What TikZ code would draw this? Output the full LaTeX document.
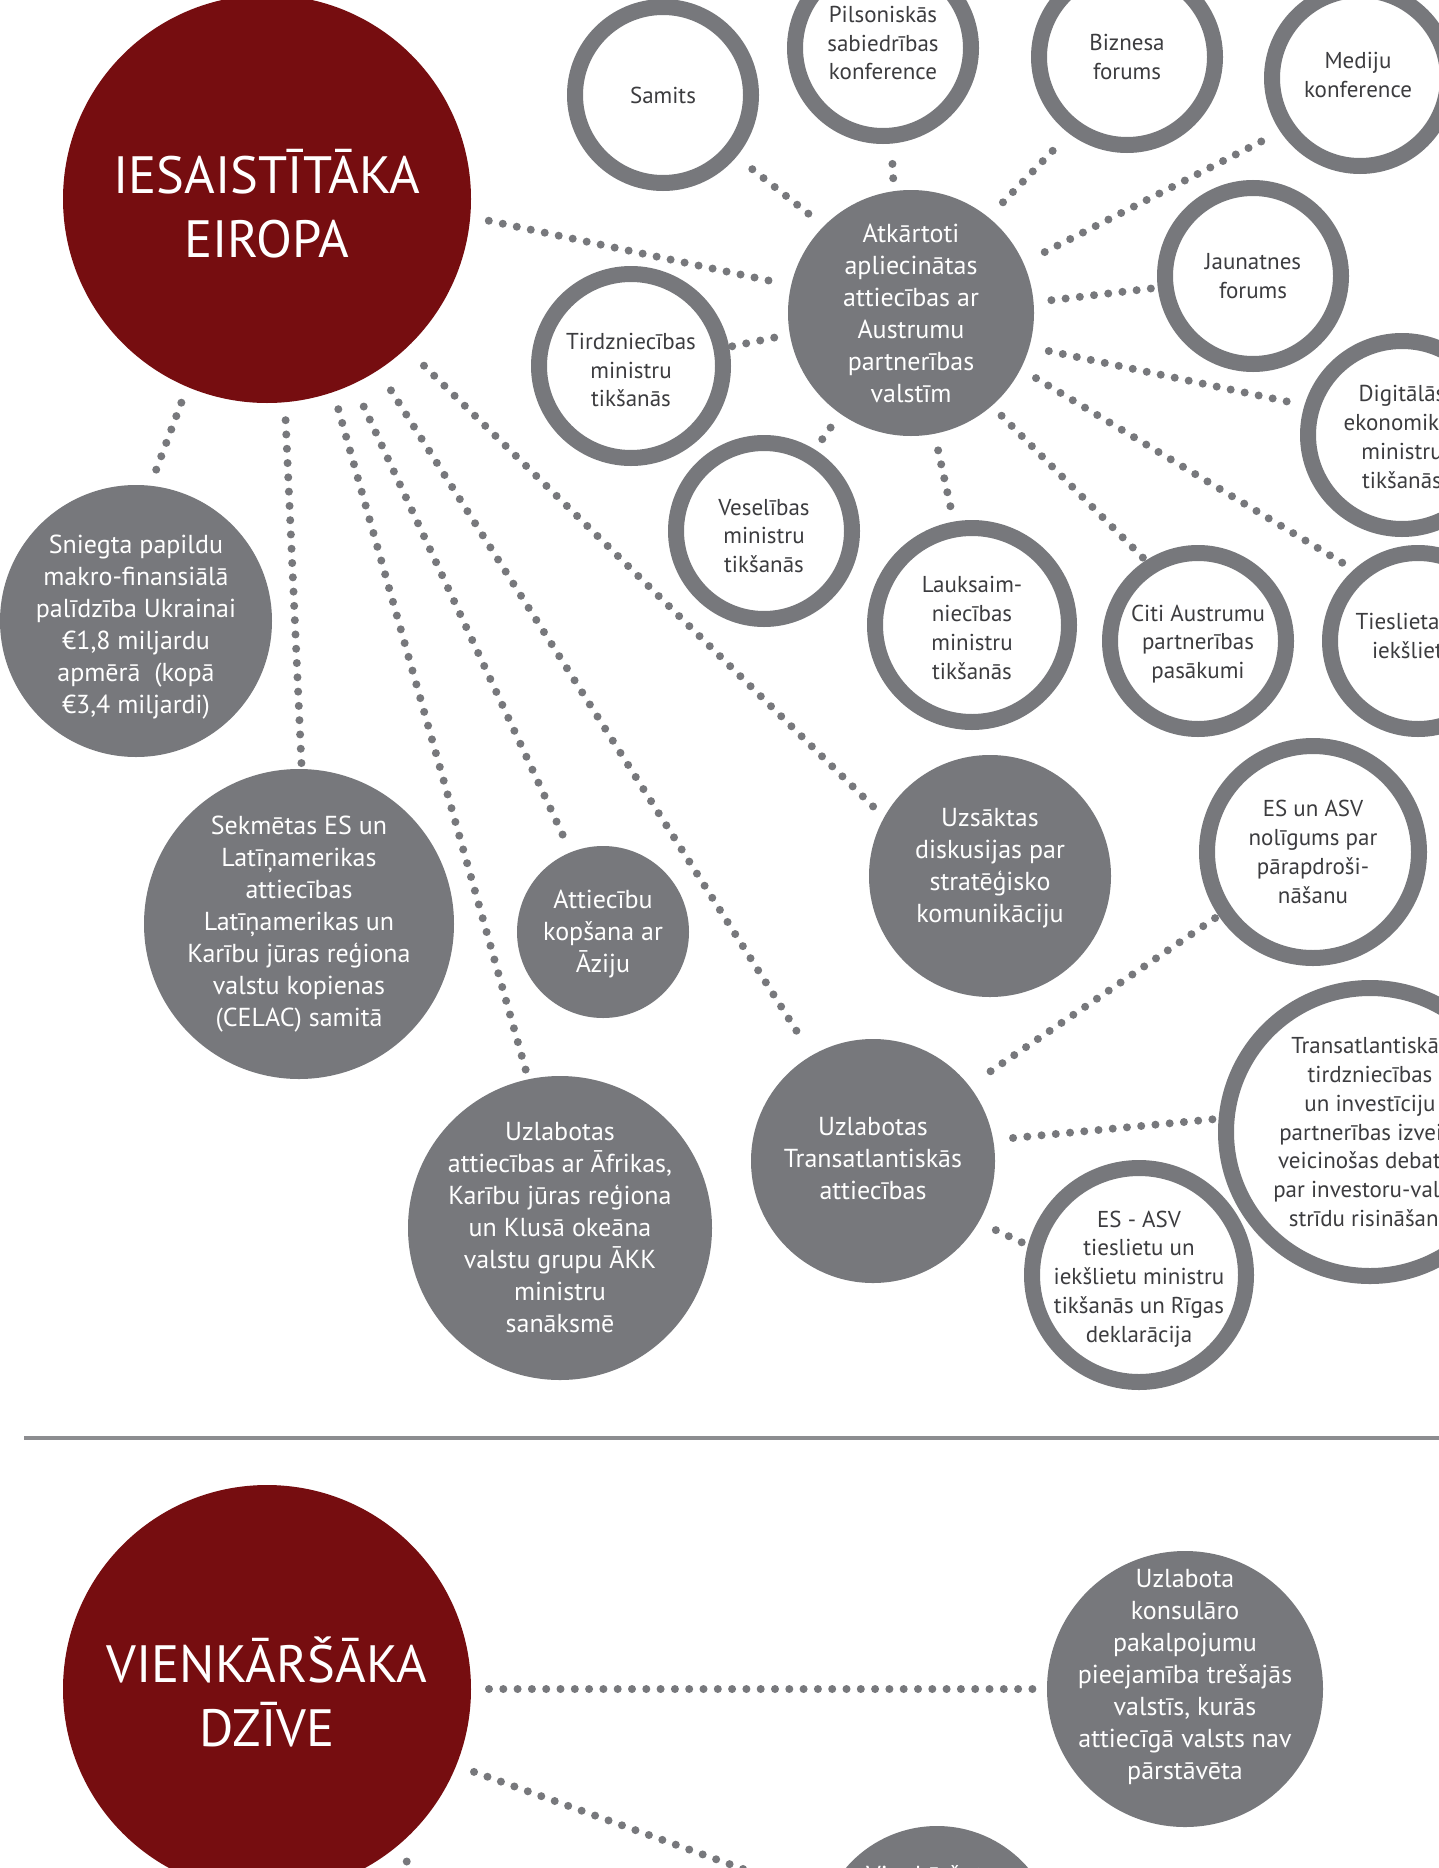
\documentclass[tikz,border=0pt]{standalone}
\usepackage{fontspec}
\setmainfont{PT Sans}
\definecolor{dred}{RGB}{118,13,16}
\definecolor{cgrey}{RGB}{119,120,124}
\definecolor{tgrey}{RGB}{60,60,63}
\definecolor{rgrey}{RGB}{140,141,144}
\newcommand\mytitlefont{\fontsize{52.5}{64}\selectfont}
\newcommand\myfillfont{\fontsize{26}{32}\selectfont}
\newcommand\myringfont{\fontsize{23}{28.8}\selectfont}
\begin{document}
\begin{tikzpicture}[x=1pt,y=-1pt,
  redc/.style={circle,inner sep=0pt,outer sep=0pt,fill=dred,minimum size=#1},
  greyc/.style={circle,inner sep=0pt,outer sep=0pt,fill=cgrey,minimum size=#1},
  ringc/.style={circle,inner sep=0pt,draw=cgrey,line width=16pt,fill=white,minimum size=#1},
  ttext/.style={inner sep=0pt,align=center,text=white,font=\mytitlefont},
  ftext/.style={inner sep=0pt,align=center,text=white,font=\myfillfont},
  rtext/.style={inner sep=0pt,align=center,text=tgrey,font=\myringfont},
  dotline/.style={draw=cgrey,line width=8pt,line cap=round,dash pattern=on 0pt off 14.3pt}]
\useasboundingbox (0,0) rectangle (1439,1868);
\fill[white] (0,0) rectangle (1439,1868);

% ---- main circles
\node[redc=408] (red1) at (267,199) {};
\node[ttext] (red1T) at (267,204) {IESAISTĪTĀKA\\EIROPA};
\node[redc=408] (red2) at (267,1689) {};
\node[ttext] (red2T) at (267,1692) {VIENKĀRŠĀKA\\DZĪVE};

% ---- filled grey circles
\node[greyc=246] (atk) at (911,313) {};
\node[ftext] (atkT) at (911,313) {Atkārtoti\\apliecinātas\\attiecības ar\\Austrumu\\partnerības\\valstīm};
\node[greyc=272] (sn) at (136,621) {};
\node[ftext] (snT) at (136,627) {Sniegta papildu\\makro-finansiālā\\palīdzība Ukrainai\\€1,8 miljardu\\apmērā~ (kopā\\€3,4 miljardi)};
\node[greyc=310] (sekm) at (299,924) {};
\node[ftext] (sekmT) at (299,924) {Sekmētas ES un\\Latīņamerikas\\attiecības\\Latīņamerikas un\\Karību jūras reģiona\\valstu kopienas\\(CELAC) samitā};
\node[greyc=172] (az) at (603,932) {};
\node[ftext] (azT) at (603,934) {Attiecību\\kopšana ar\\Āziju};
\node[greyc=304] (afr) at (560,1228) {};
\node[ftext] (afrT) at (560,1228) {Uzlabotas\\attiecības ar Āfrikas,\\Karību jūras reģiona\\un Klusā okeāna\\valstu grupu ĀKK\\ministru\\sanāksmē};
\node[greyc=242] (uzs) at (990,876) {};
\node[ftext] (uzsT) at (990,868) {Uzsāktas\\diskusijas par\\stratēģisko\\komunikāciju};
\node[greyc=244] (tra) at (873,1161) {};
\node[ftext] (traT) at (873,1159) {Uzlabotas\\Transatlantiskās\\attiecības};
\node[greyc=276] (kons) at (1185,1689) {};
\node[ftext] (konsT) at (1185,1677) {Uzlabota\\konsulāro\\pakalpojumu\\pieejamība trešajās\\valstīs, kurās\\attiecīgā valsts nav\\pārstāvēta};
\node[greyc=240] (bot) at (937,1946) {};
\node[ftext,anchor=north] (botT) at (931,1865) {Vienkāršota};

% ---- ring circles
\node[ringc=176] (sam) at (663,95) {};
\node[rtext] (samT) at (663,95) {Samits};
\node[ringc=176] (pils) at (883,48) {};
\node[rtext] (pilsT) at (883,43) {Pilsoniskās\\sabiedrības\\konference};
\node[ringc=176] (biz) at (1127,57) {};
\node[rtext] (bizT) at (1127,57) {Biznesa\\forums};
\node[ringc=176] (med) at (1360,78) {};
\node[rtext] (medT) at (1358,75) {Mediju\\konference};
\node[ringc=176] (jaun) at (1253,276) {};
\node[rtext] (jaunT) at (1253,276) {Jaunatnes\\forums};
\node[ringc=188] (dig) at (1402,435) {};
\node[rtext] (digT) at (1402,437) {Digitālās\\ekonomikas\\ministru\\tikšanās};
\node[ringc=176] (ties) at (1418,641) {};
\node[rtext] (tiesT) at (1418,636) {Tieslietas un\\iekšlietas};
\node[ringc=184] (tird) at (631,366) {};
\node[rtext] (tirdT) at (631,370) {Tirdzniecības\\ministru\\tikšanās};
\node[ringc=176] (ves) at (764,531) {};
\node[rtext] (vesT) at (764,536) {Veselības\\ministru\\tikšanās};
\node[ringc=194] (lauk) at (972,625) {};
\node[rtext] (laukT) at (972,628) {Lauksaim-\\niecības\\ministru\\tikšanās};
\node[ringc=176] (citi) at (1198,641) {};
\node[rtext] (citiT) at (1198,644) {Citi Austrumu\\partnerības\\pasākumi};
\node[ringc=212] (esasv) at (1313,852) {};
\node[rtext] (esasvT) at (1313,852) {ES un ASV\\nolīgums par\\pārapdroši-\\nāšanu};
\node[ringc=288] (transa) at (1370,1132) {};
\node[rtext] (transaT) at (1370,1132) {Transatlantiskās\\tirdzniecības\\un investīciju\\partnerības izveidi\\veicinošas debates\\par investoru-valsts\\strīdu risināšanu};
\node[ringc=214] (esasvb) at (1139,1275) {};
\node[rtext] (esasvbT) at (1139,1279) {ES - ASV\\tieslietu un\\iekšlietu ministru\\tikšanās un Rīgas\\deklarācija};

% ---- separator
\coordinate (ruleL) at (24,1438);
\coordinate (ruleR) at (1439,1438);
\draw[rgrey,line width=3.5pt] (ruleL) -- (ruleR);

% ---- connectors from IESAISTĪTĀKA EIROPA
\draw[dotline,shorten <=19pt,shorten >=18pt] (red1.-5) -- (atk.167);
\draw[dotline,shorten <=17pt,shorten >=7pt] (red1.-113.5) -- (sn.84);
\draw[dotline,shorten <=18pt,shorten >=5pt] (red1.-85) -- (sekm.89);
\draw[dotline,shorten <=18pt,shorten >=8pt] (red1.-71) -- (afr.102);
\draw[dotline,shorten <=25pt,shorten >=19pt] (red1.-65.4) -- (az.112);
\draw[dotline,shorten <=24pt,shorten >=17pt] (red1.-57.4) -- (tra.120.5);
\draw[dotline,shorten <=25pt,shorten >=6pt] (red1.-47) -- (uzs.151);

% ---- connectors from Atkārtoti ...
\draw[dotline,shorten <=20pt,shorten >=15pt] (atk.135) -- (sam.-40);
\draw[dotline,shorten <=13pt,shorten >=12pt] (atk.98) -- (pils.-85.5);
\draw[dotline,shorten <=21pt,shorten >=12pt] (atk.51.7) -- (biz.-127);
\draw[dotline,shorten <=24pt,shorten >=11pt] (atk.24.5) -- (med.-146.5);
\draw[dotline,shorten <=18pt,shorten >=6pt] (atk.5) -- (jaun.-173);
\draw[dotline,shorten <=20pt,shorten >=4pt] (atk.-16) -- (dig.163);
\draw[dotline,shorten <=18pt,shorten >=6pt] (atk.-27.6) -- (ties.132);
\draw[dotline,shorten <=14pt,shorten >=3pt] (atk.-49) -- (citi.123);
\draw[dotline,shorten <=17pt,shorten >=4pt] (atk.-79) -- (lauk.100);
\draw[dotline,shorten <=17pt,shorten >=7pt] (atk.-125.6) -- (ves.58.7);
\draw[dotline,shorten <=16pt,shorten >=3pt] (atk.-170.6) -- (tird.11.4);

% ---- connectors from Uzlabotas Transatlantiskās attiecības
\draw[dotline,shorten <=26pt,shorten >=4pt] (tra.38.4) -- (esasv.-146);
\draw[dotline,shorten <=20pt,shorten >=5pt] (tra.10.6) -- (transa.175.7);
\draw[dotline,shorten <=19pt,shorten >=2pt] (tra.-30.5) -- (esasvb.165);

% ---- connectors from VIENKĀRŠĀKA DZĪVE
\draw[dotline,shorten <=18pt,shorten >=3pt] (red2.0.5) -- (kons.180);
\draw[dotline,shorten <=19pt,shorten >=4pt] (red2.-22) -- (bot.157);
\coordinate (offA) at (456,1922);
\draw[dotline,shorten <=18pt] (red2.-51) -- (offA);
\end{tikzpicture}
\end{document}
